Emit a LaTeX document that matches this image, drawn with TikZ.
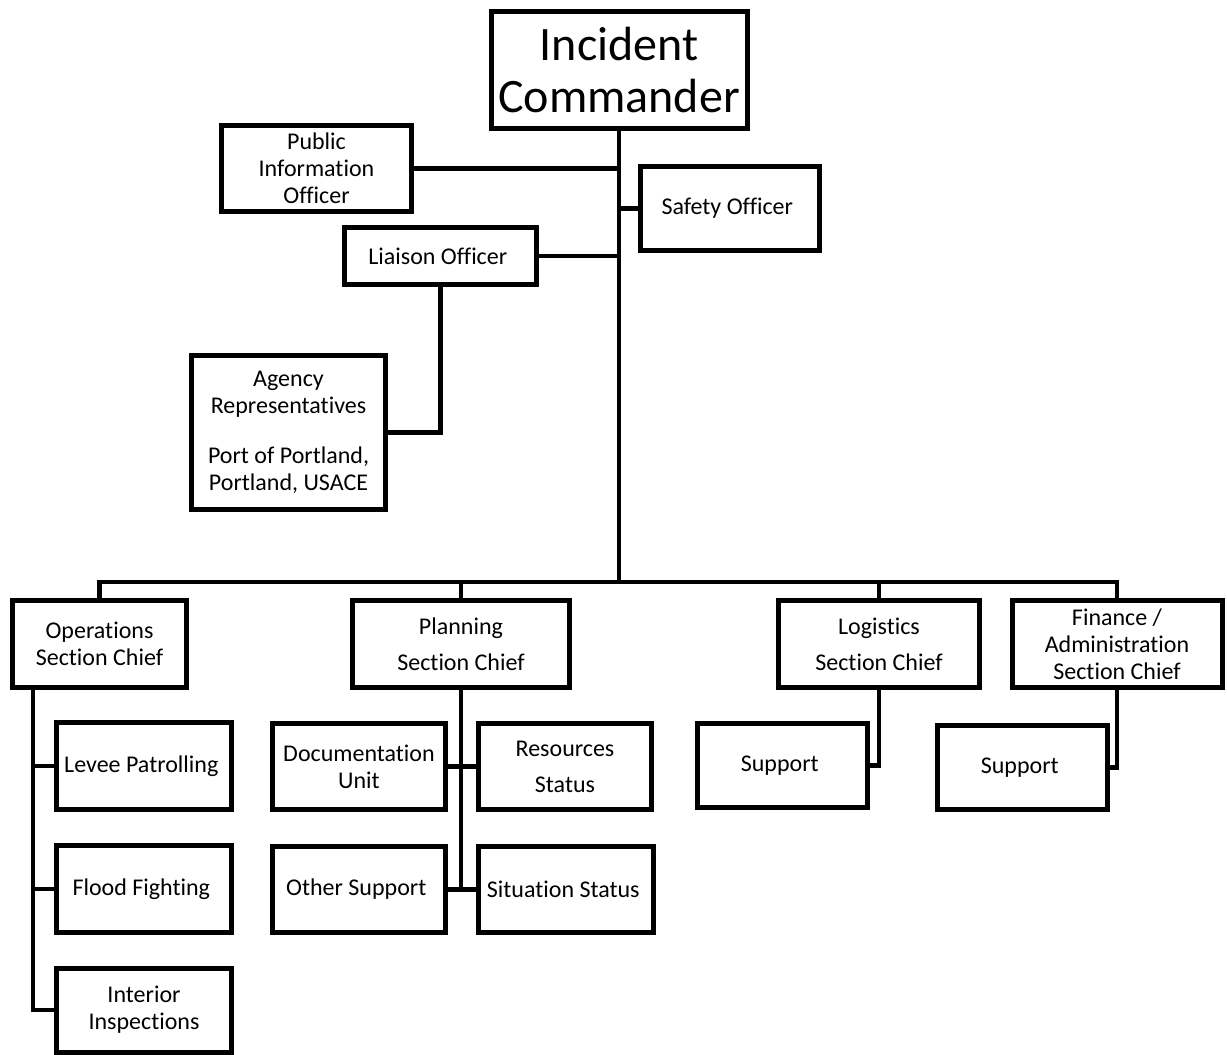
\documentclass[tikz,border=0pt]{standalone}
\usepackage{fontspec}
\setmainfont{Carlito}[Ligatures=NoCommon]

\begin{document}
\begin{tikzpicture}[x = 1pt, y = -1pt,
    box/.style = {draw, line width = 5pt, align = center, inner sep = 0pt,
      font = \fontsize{24}{27}\selectfont},
    link/.style = {line width = 4.5pt}]
  \useasboundingbox (0, 0) rectangle (1227, 1055);

  \node[box, minimum width = 256, minimum height = 117,
    font = \fontsize{48}{52}\selectfont] (IC) at (619, 70) {
    Incident\\Commander
  };

  \node[box, minimum width = 190, minimum height = 86] (PIO) at (316.5, 168.5) {
    Public\\Information\\Officer
  };

  \node[box, minimum width = 179, minimum height = 84] (SO) at (730, 208.5) {
    Safety Officer
  };

  \node[box, minimum width = 192, minimum height = 57] (LO) at (440.5, 256) {
    Liaison Officer
  };

  \node[box, minimum width = 194, minimum height = 154] (AR) at (288.5, 432.5) {
    Agency\\Representatives\\[23pt]Port of Portland,\\Portland, USACE
  };

  \node[box, minimum width = 174, minimum height = 87] (OSC) at (99.5, 644) {
    Operations\\Section Chief
  };

  \node[box, minimum width = 217, minimum height = 87] (PSC) at (461, 644) {
    Planning\\[9pt]Section Chief
  };

  \node[box, minimum width = 201, minimum height = 87] (LSC) at (879, 644) {
    Logistics\\[9pt]Section Chief
  };

  \node[box, minimum width = 210, minimum height = 87] (FSC) at (1117, 644) {
    Finance /\\Administration\\Section Chief
  };

  \node[box, minimum width = 175, minimum height = 87] (LP) at (144, 766) {
    Levee Patrolling
  };

  \node[box, minimum width = 175, minimum height = 87] (FF) at (144, 889) {
    Flood Fighting
  };

  \node[box, minimum width = 175, minimum height = 84] (II) at (144, 1010) {
    Interior\\Inspections
  };

  \node[box, minimum width = 173, minimum height = 86] (DU) at (359, 766.5) {
    Documentation\\Unit
  };

  \node[box, minimum width = 173, minimum height = 86] (RS) at (565, 766.5) {
    Resources\\[9pt]Status
  };

  \node[box, minimum width = 173, minimum height = 86] (OS) at (359, 889.5) {
    Other Support
  };

  \node[box, minimum width = 175, minimum height = 86] (SS) at (566, 889.5) {
    Situation Status
  };

  \node[box, minimum width = 170, minimum height = 84] (LS) at (782.5, 765.5) {
    Support
  };

  \node[box, minimum width = 170, minimum height = 84] (FS) at (1022.5, 767.5) {
    Support
  };

  \coordinate (B) at (620, 582);
  \coordinate (OT) at (33, 688);

  \draw[link] (IC.south) -- (IC.south |- B);
  \draw[link] (PIO.east) -- (PIO.east -| IC.south);
  \draw[link] (SO.west) -- (SO.west -| IC.south);
  \draw[link] (LO.east) -- (LO.east -| IC.south);
  \draw[link] (LO.south) |- (AR.east);
  \draw[link] (OSC.north) |- (B) -| (FSC.north);
  \draw[link] (PSC.north) -- (PSC.north |- B);
  \draw[link] (LSC.north) -- (LSC.north |- B);
  \draw[link] (OT) |- (LP.west);
  \draw[link] (OT) |- (FF.west);
  \draw[link] (OT) |- (II.west);
  \draw[link] (PSC.south) -- (PSC.south |- OS.east);
  \draw[link] (DU.east) -- (RS.west);
  \draw[link] (OS.east) -- (SS.west);
  \draw[link] (LSC.south) |- (LS.east);
  \draw[link] (FSC.south) |- (FS.east);
\end{tikzpicture}
\end{document}
